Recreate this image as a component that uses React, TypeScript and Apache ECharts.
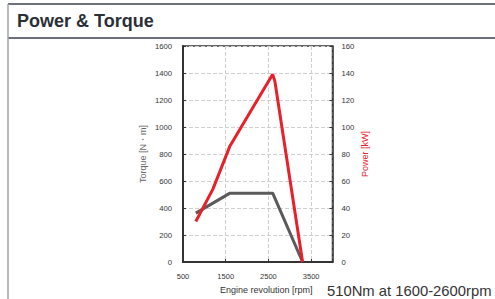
import React, { useEffect, useRef } from "react";
import * as echarts from "echarts";

const titleText = "Power & Torque";
const noteText = "510Nm at 1600-2600rpm";
const xTicks = [500, 1500, 2500, 3500];
const torqueData: [number, number][] = [
  [800, 362],
  [1600, 510],
  [2600, 510],
  [3300, 0],
];
const powerData: [number, number][] = [
  [800, 30],
  [1200, 54],
  [1600, 86],
  [2600, 139],
  [2650, 134],
  [3300, 0],
];

const FONT = "'Liberation Sans', Arial, sans-serif";

export default function App() {
  const ref = useRef<HTMLDivElement>(null);
  useEffect(() => {
    if (!ref.current) return;
    const chart = echarts.init(ref.current, undefined, { renderer: "svg" });
    chart.setOption({
      animation: false,
      backgroundColor: "#ffffff",
      textStyle: { fontFamily: FONT },
      grid: {
        left: 183,
        right: 162.5,
        top: 46,
        bottom: 35.5,
        show: true,
        borderColor: "#333",
        borderWidth: 1.5,
      },
      graphic: [
        {
          type: "line",
          shape: { x1: 8, y1: 4, x2: 495, y2: 4 },
          style: { stroke: "#3d434b", lineWidth: 1.5 },
        },
        {
          type: "line",
          shape: { x1: 8, y1: 38, x2: 495, y2: 38 },
          style: { stroke: "#6b7078", lineWidth: 2 },
        },
        {
          type: "line",
          shape: { x1: 8, y1: 4, x2: 8, y2: 299 },
          style: { stroke: "#a0a3a8", lineWidth: 1.5 },
        },
        {
          type: "text",
          left: 17,
          top: 12,
          style: {
            text: titleText,
            fontSize: 18,
            fontWeight: "bold",
            fontFamily: FONT,
            fill: "#2b2f36",
          },
        },
        {
          type: "text",
          left: 327,
          top: 283,
          style: {
            text: noteText,
            fontSize: 14.8,
            fontFamily: FONT,
            fill: "#333",
          },
        },
      ],
      xAxis: {
        type: "value",
        min: 500,
        max: 4000,
        interval: 1000,
        name: "Engine revolution [rpm]",
        nameLocation: "middle",
        nameGap: 23,
        nameTextStyle: { fontSize: 9, color: "#333", padding: [0, 0, 0, 17] },
        axisLine: { show: true, lineStyle: { color: "#333", width: 2 } },
        axisTick: { show: true, inside: true, length: 3, lineStyle: { color: "#333" } },
        axisLabel: {
          fontSize: 7.5,
          color: "#333",
          margin: 10,
          formatter: (v: number) => (xTicks.includes(v) ? String(v) : ""),
        },
        splitLine: { show: true, lineStyle: { color: "#cfcfcf", type: "dashed", width: 1 } },
      },
      yAxis: [
        {
          type: "value",
          min: 0,
          max: 1600,
          interval: 200,
          position: "left",
          name: "Torque [N・m]",
          nameLocation: "middle",
          nameGap: 36,
          nameTextStyle: { fontSize: 9, color: "#666" },
          axisLine: { show: true, lineStyle: { color: "#333", width: 2 } },
          axisTick: { show: true, inside: true, length: 3, lineStyle: { color: "#333" } },
          axisLabel: { fontSize: 7.7, color: "#333", margin: 11, formatter: (v: number) => String(v) },
          splitLine: { show: true, lineStyle: { color: "#cfcfcf", type: "dashed", width: 1 } },
        },
        {
          type: "value",
          min: 0,
          max: 160,
          interval: 20,
          position: "right",
          name: "Power [kW]",
          nameLocation: "middle",
          nameGap: 28,
          nameTextStyle: { fontSize: 9, color: "#e8202a" },
          axisLine: { show: true, lineStyle: { color: "#333", width: 1.5 } },
          axisTick: { show: true, inside: true, length: 3, lineStyle: { color: "#333" } },
          axisLabel: { fontSize: 7.7, color: "#333", margin: 9, formatter: (v: number) => String(v) },
          splitLine: { show: false },
        },
      ],
      series: [
        {
          type: "line",
          name: "Torque",
          yAxisIndex: 0,
          data: torqueData,
          symbol: "none",
          lineStyle: { color: "#5a5a5a", width: 3 },
          itemStyle: { color: "#5a5a5a" },
        },
        {
          type: "line",
          name: "Power",
          yAxisIndex: 1,
          data: powerData,
          symbol: "none",
          lineStyle: { color: "#e8202a", width: 3 },
          itemStyle: { color: "#e8202a" },
        },
      ],
    });
    return () => chart.dispose();
  }, []);
  return (
    <div
      ref={ref}
      style={{ position: "fixed", left: 0, top: 0, width: 495, height: 299 }}
    />
  );
}
